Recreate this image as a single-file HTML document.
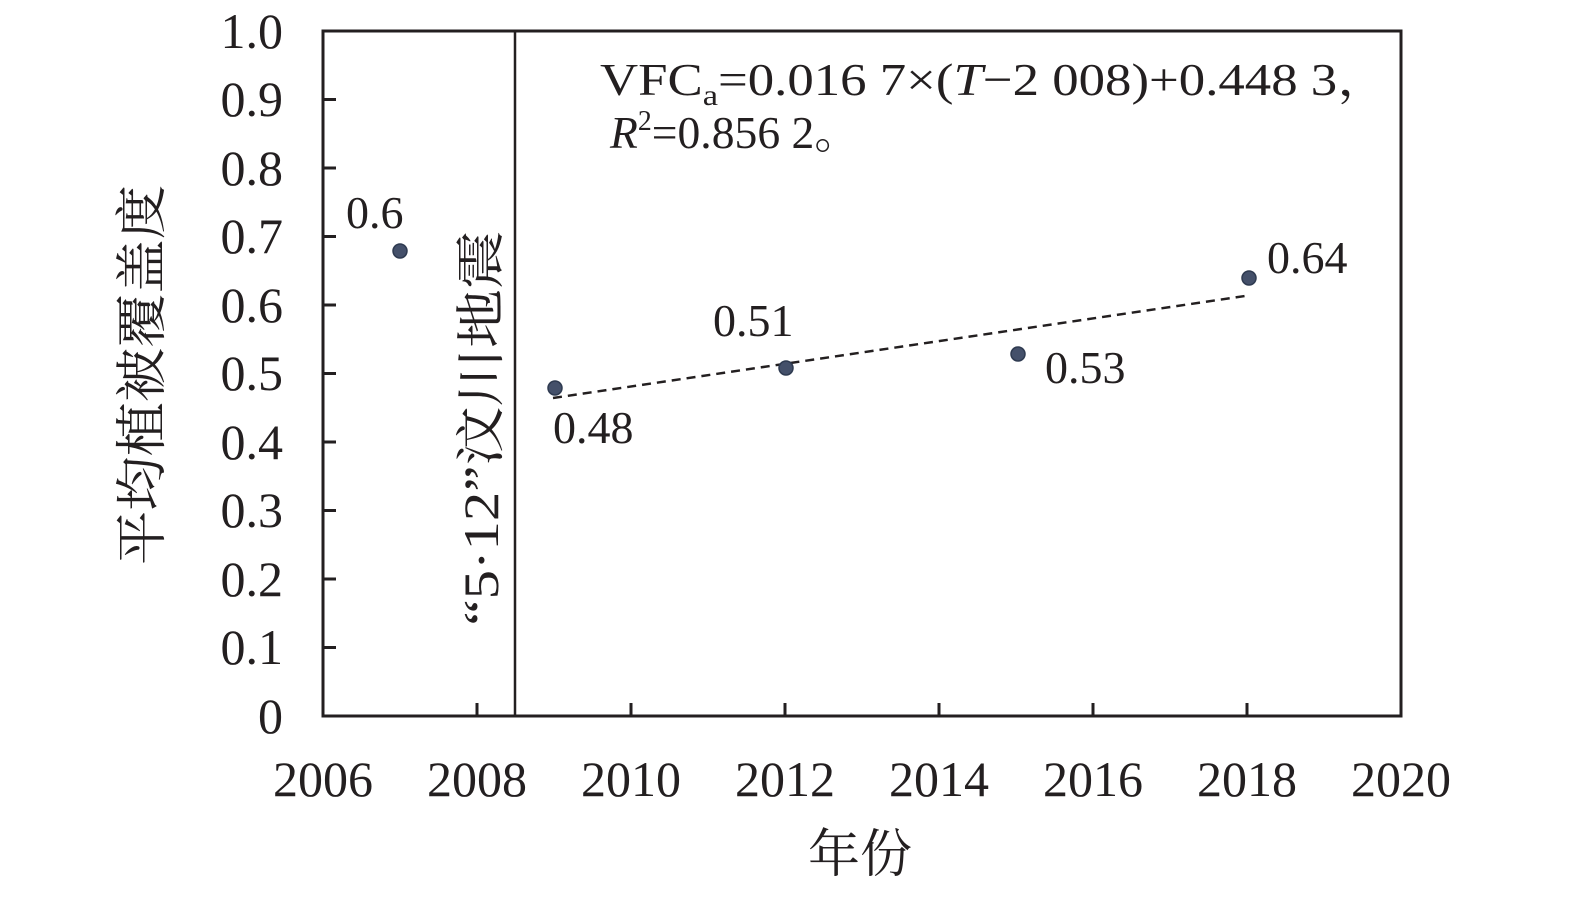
<!DOCTYPE html>
<html><head><meta charset="utf-8"><style>body{margin:0;background:#fff}svg text{font-family:"Liberation Serif","Times New Roman","Noto Serif CJK SC",serif}</style></head>
<body>
<svg width="1575" height="895" xmlns="http://www.w3.org/2000/svg" fill="#231f20">
<rect x="0" y="0" width="1575" height="895" fill="#fff"/>
<g stroke="#231f20" stroke-width="3" fill="none">
<rect x="323" y="31" width="1078" height="685"/>
<line x1="515" y1="31" x2="515" y2="716" stroke-width="2.5"/>
<path d="M323 647.5h13M323 579h13M323 510.5h13M323 442h13M323 373.5h13M323 305h13M323 236.5h13M323 168h13M323 99.5h13"/>
<path d="M477 716v-13M631 716v-13M785 716v-13M939 716v-13M1093 716v-13M1247 716v-13"/>
<line x1="553" y1="398" x2="1245" y2="296" stroke-width="2.5" stroke-dasharray="9,6"/>
</g>
<g fill="#44506a" stroke="#2e3a50" stroke-width="1.5">
<circle cx="400" cy="251" r="7"/><circle cx="555" cy="388" r="7"/><circle cx="786" cy="368" r="7"/><circle cx="1018" cy="354" r="7"/><circle cx="1249" cy="278" r="7"/>
</g>
<g font-size="50" text-anchor="end">
<text x="283" y="48">1.0</text><text x="283" y="116">0.9</text><text x="283" y="185">0.8</text><text x="283" y="253">0.7</text><text x="283" y="322">0.6</text><text x="283" y="390">0.5</text><text x="283" y="459">0.4</text><text x="283" y="527">0.3</text><text x="283" y="596">0.2</text><text x="283" y="664">0.1</text><text x="283" y="733">0</text>
</g>
<g font-size="50" text-anchor="middle">
<text x="323" y="796">2006</text><text x="477" y="796">2008</text><text x="631" y="796">2010</text><text x="785" y="796">2012</text><text x="939" y="796">2014</text><text x="1093" y="796">2016</text><text x="1247" y="796">2018</text><text x="1401" y="796">2020</text>
<text x="860" y="872" font-size="52">年份</text>
</g>
<g font-size="46">
<text x="346" y="228">0.6</text>
<text x="553" y="443">0.48</text>
<text x="713" y="336">0.51</text>
<text x="1045" y="383">0.53</text>
<text x="1267" y="273">0.64</text>
</g>
<text font-size="46" x="600" y="95" textLength="790" lengthAdjust="spacingAndGlyphs">VFC<tspan font-size="30" dy="10">a</tspan><tspan dy="-10">=0.016 7×(</tspan><tspan font-style="italic">T</tspan>−2 008)+0.448 3，</text>
<text font-size="46" x="610" y="148" textLength="250" lengthAdjust="spacingAndGlyphs"><tspan font-style="italic">R</tspan><tspan font-size="28" dy="-18">2</tspan><tspan dy="18">=0.856 2。</tspan></text>
<text font-size="52" transform="translate(160,375) rotate(-90)" text-anchor="middle" textLength="380" lengthAdjust="spacingAndGlyphs">平均植被覆盖度</text>
<text font-size="50" transform="translate(498,428) rotate(-90)" text-anchor="middle" textLength="395" lengthAdjust="spacingAndGlyphs">“5·12”汶川地震</text>
</svg>
</body></html>
